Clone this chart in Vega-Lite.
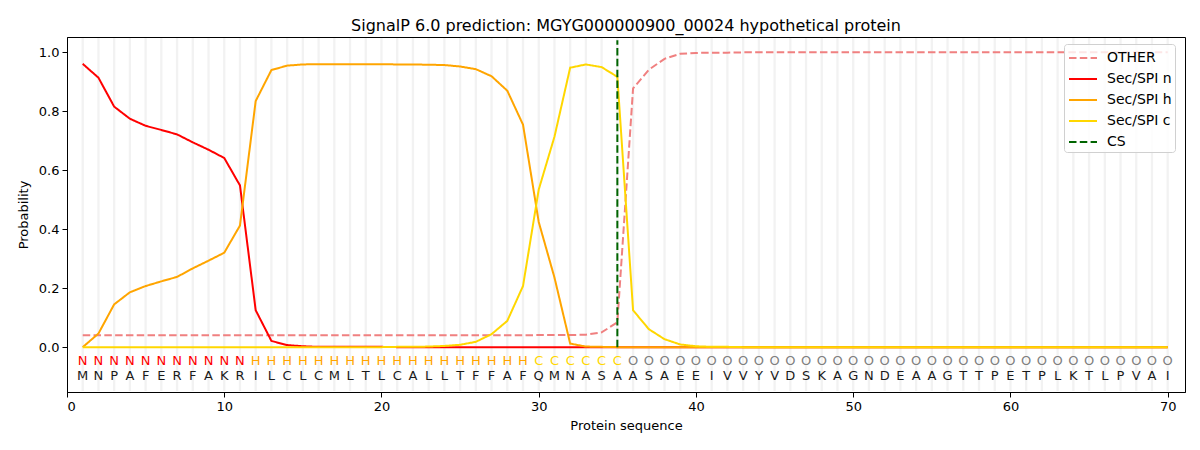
{
  "$schema": "https://vega.github.io/schema/vega-lite/v6.json",
  "width": 1118,
  "height": 355,
  "autosize": {"type": "none"},
  "padding": {"left": 67, "top": 37, "right": 15, "bottom": 58},
  "config": {
    "font": "DejaVu Sans",
    "view": {"stroke": "black", "strokeWidth": 1},
    "axis": {"grid": false, "domainColor": "black", "tickColor": "black", "labelColor": "black", "titleColor": "black", "labelFontSize": 13, "titleFontSize": 13, "titleFontWeight": "normal", "tickSize": 5, "labelFont": "DejaVu Sans", "titleFont": "DejaVu Sans"}
  },
  "title": {"text": "SignalP 6.0 prediction: MGYG000000900_00024 hypothetical protein", "fontSize": 16, "fontWeight": "normal", "font": "DejaVu Sans", "color": "black", "offset": 3},
  "datasets": {
    "seq": [
      {"pos": 1, "aa": "M", "lab": "N", "OTHER": 0.04, "Sec/SPI n": 0.960, "Sec/SPI h": 0.0, "Sec/SPI c": 0.0},
      {"pos": 2, "aa": "N", "lab": "N", "OTHER": 0.04, "Sec/SPI n": 0.913, "Sec/SPI h": 0.046, "Sec/SPI c": 0.0},
      {"pos": 3, "aa": "P", "lab": "N", "OTHER": 0.04, "Sec/SPI n": 0.815, "Sec/SPI h": 0.145, "Sec/SPI c": 0.0},
      {"pos": 4, "aa": "A", "lab": "N", "OTHER": 0.04, "Sec/SPI n": 0.774, "Sec/SPI h": 0.186, "Sec/SPI c": 0.0},
      {"pos": 5, "aa": "F", "lab": "N", "OTHER": 0.04, "Sec/SPI n": 0.750, "Sec/SPI h": 0.207, "Sec/SPI c": 0.0},
      {"pos": 6, "aa": "E", "lab": "N", "OTHER": 0.04, "Sec/SPI n": 0.736, "Sec/SPI h": 0.223, "Sec/SPI c": 0.0},
      {"pos": 7, "aa": "R", "lab": "N", "OTHER": 0.04, "Sec/SPI n": 0.721, "Sec/SPI h": 0.238, "Sec/SPI c": 0.0},
      {"pos": 8, "aa": "F", "lab": "N", "OTHER": 0.04, "Sec/SPI n": 0.694, "Sec/SPI h": 0.267, "Sec/SPI c": 0.0},
      {"pos": 9, "aa": "A", "lab": "N", "OTHER": 0.04, "Sec/SPI n": 0.669, "Sec/SPI h": 0.293, "Sec/SPI c": 0.0},
      {"pos": 10, "aa": "K", "lab": "N", "OTHER": 0.04, "Sec/SPI n": 0.641, "Sec/SPI h": 0.320, "Sec/SPI c": 0.0},
      {"pos": 11, "aa": "R", "lab": "N", "OTHER": 0.04, "Sec/SPI n": 0.548, "Sec/SPI h": 0.412, "Sec/SPI c": 0.0},
      {"pos": 12, "aa": "I", "lab": "H", "OTHER": 0.04, "Sec/SPI n": 0.125, "Sec/SPI h": 0.834, "Sec/SPI c": 0.0},
      {"pos": 13, "aa": "L", "lab": "H", "OTHER": 0.04, "Sec/SPI n": 0.021, "Sec/SPI h": 0.939, "Sec/SPI c": 0.0},
      {"pos": 14, "aa": "C", "lab": "H", "OTHER": 0.04, "Sec/SPI n": 0.007, "Sec/SPI h": 0.954, "Sec/SPI c": 0.0},
      {"pos": 15, "aa": "L", "lab": "H", "OTHER": 0.04, "Sec/SPI n": 0.003, "Sec/SPI h": 0.958, "Sec/SPI c": 0.0},
      {"pos": 16, "aa": "C", "lab": "H", "OTHER": 0.04, "Sec/SPI n": 0.001, "Sec/SPI h": 0.959, "Sec/SPI c": 0.0},
      {"pos": 17, "aa": "M", "lab": "H", "OTHER": 0.04, "Sec/SPI n": 0.001, "Sec/SPI h": 0.959, "Sec/SPI c": 0.0},
      {"pos": 18, "aa": "L", "lab": "H", "OTHER": 0.04, "Sec/SPI n": 0.001, "Sec/SPI h": 0.959, "Sec/SPI c": 0.0},
      {"pos": 19, "aa": "T", "lab": "H", "OTHER": 0.04, "Sec/SPI n": 0.001, "Sec/SPI h": 0.959, "Sec/SPI c": 0.0},
      {"pos": 20, "aa": "L", "lab": "H", "OTHER": 0.04, "Sec/SPI n": 0.001, "Sec/SPI h": 0.959, "Sec/SPI c": 0.0},
      {"pos": 21, "aa": "C", "lab": "H", "OTHER": 0.04, "Sec/SPI n": 0.0, "Sec/SPI h": 0.958, "Sec/SPI c": 0.001},
      {"pos": 22, "aa": "A", "lab": "H", "OTHER": 0.04, "Sec/SPI n": 0.0, "Sec/SPI h": 0.958, "Sec/SPI c": 0.001},
      {"pos": 23, "aa": "L", "lab": "H", "OTHER": 0.04, "Sec/SPI n": 0.0, "Sec/SPI h": 0.957, "Sec/SPI c": 0.002},
      {"pos": 24, "aa": "L", "lab": "H", "OTHER": 0.04, "Sec/SPI n": 0.0, "Sec/SPI h": 0.956, "Sec/SPI c": 0.004},
      {"pos": 25, "aa": "T", "lab": "H", "OTHER": 0.04, "Sec/SPI n": 0.0, "Sec/SPI h": 0.951, "Sec/SPI c": 0.008},
      {"pos": 26, "aa": "F", "lab": "H", "OTHER": 0.04, "Sec/SPI n": 0.0, "Sec/SPI h": 0.942, "Sec/SPI c": 0.018},
      {"pos": 27, "aa": "F", "lab": "H", "OTHER": 0.04, "Sec/SPI n": 0.0, "Sec/SPI h": 0.918, "Sec/SPI c": 0.044},
      {"pos": 28, "aa": "A", "lab": "H", "OTHER": 0.04, "Sec/SPI n": 0.0, "Sec/SPI h": 0.869, "Sec/SPI c": 0.089},
      {"pos": 29, "aa": "F", "lab": "H", "OTHER": 0.04, "Sec/SPI n": 0.0, "Sec/SPI h": 0.754, "Sec/SPI c": 0.207},
      {"pos": 30, "aa": "Q", "lab": "C", "OTHER": 0.041, "Sec/SPI n": 0.0, "Sec/SPI h": 0.424, "Sec/SPI c": 0.534},
      {"pos": 31, "aa": "M", "lab": "C", "OTHER": 0.041, "Sec/SPI n": 0.0, "Sec/SPI h": 0.236, "Sec/SPI c": 0.713},
      {"pos": 32, "aa": "N", "lab": "C", "OTHER": 0.041, "Sec/SPI n": 0.0, "Sec/SPI h": 0.012, "Sec/SPI c": 0.947},
      {"pos": 33, "aa": "A", "lab": "C", "OTHER": 0.042, "Sec/SPI n": 0.0, "Sec/SPI h": 0.002, "Sec/SPI c": 0.958},
      {"pos": 34, "aa": "S", "lab": "C", "OTHER": 0.05, "Sec/SPI n": 0.0, "Sec/SPI h": 0.001, "Sec/SPI c": 0.949},
      {"pos": 35, "aa": "A", "lab": "C", "OTHER": 0.084, "Sec/SPI n": 0.0, "Sec/SPI h": 0.0, "Sec/SPI c": 0.916},
      {"pos": 36, "aa": "A", "lab": "O", "OTHER": 0.877, "Sec/SPI n": 0.0, "Sec/SPI h": 0.0, "Sec/SPI c": 0.125},
      {"pos": 37, "aa": "S", "lab": "O", "OTHER": 0.940, "Sec/SPI n": 0.0, "Sec/SPI h": 0.0, "Sec/SPI c": 0.061},
      {"pos": 38, "aa": "A", "lab": "O", "OTHER": 0.977, "Sec/SPI n": 0.0, "Sec/SPI h": 0.0, "Sec/SPI c": 0.027},
      {"pos": 39, "aa": "E", "lab": "O", "OTHER": 0.994, "Sec/SPI n": 0.0, "Sec/SPI h": 0.0, "Sec/SPI c": 0.009},
      {"pos": 40, "aa": "E", "lab": "O", "OTHER": 0.997, "Sec/SPI n": 0.0, "Sec/SPI h": 0.0, "Sec/SPI c": 0.003},
      {"pos": 41, "aa": "I", "lab": "O", "OTHER": 0.998, "Sec/SPI n": 0.0, "Sec/SPI h": 0.0, "Sec/SPI c": 0.001},
      {"pos": 42, "aa": "V", "lab": "O", "OTHER": 0.998, "Sec/SPI n": 0.0, "Sec/SPI h": 0.0, "Sec/SPI c": 0.001},
      {"pos": 43, "aa": "V", "lab": "O", "OTHER": 0.999, "Sec/SPI n": 0.0, "Sec/SPI h": 0.0, "Sec/SPI c": 0.0},
      {"pos": 44, "aa": "Y", "lab": "O", "OTHER": 0.999, "Sec/SPI n": 0.0, "Sec/SPI h": 0.0, "Sec/SPI c": 0.0},
      {"pos": 45, "aa": "V", "lab": "O", "OTHER": 0.999, "Sec/SPI n": 0.0, "Sec/SPI h": 0.0, "Sec/SPI c": 0.0},
      {"pos": 46, "aa": "D", "lab": "O", "OTHER": 0.999, "Sec/SPI n": 0.0, "Sec/SPI h": 0.0, "Sec/SPI c": 0.0},
      {"pos": 47, "aa": "S", "lab": "O", "OTHER": 0.999, "Sec/SPI n": 0.0, "Sec/SPI h": 0.0, "Sec/SPI c": 0.0},
      {"pos": 48, "aa": "K", "lab": "O", "OTHER": 0.999, "Sec/SPI n": 0.0, "Sec/SPI h": 0.0, "Sec/SPI c": 0.0},
      {"pos": 49, "aa": "A", "lab": "O", "OTHER": 0.999, "Sec/SPI n": 0.0, "Sec/SPI h": 0.0, "Sec/SPI c": 0.0},
      {"pos": 50, "aa": "G", "lab": "O", "OTHER": 0.999, "Sec/SPI n": 0.0, "Sec/SPI h": 0.0, "Sec/SPI c": 0.0},
      {"pos": 51, "aa": "N", "lab": "O", "OTHER": 0.999, "Sec/SPI n": 0.0, "Sec/SPI h": 0.0, "Sec/SPI c": 0.0},
      {"pos": 52, "aa": "D", "lab": "O", "OTHER": 0.999, "Sec/SPI n": 0.0, "Sec/SPI h": 0.0, "Sec/SPI c": 0.0},
      {"pos": 53, "aa": "E", "lab": "O", "OTHER": 0.999, "Sec/SPI n": 0.0, "Sec/SPI h": 0.0, "Sec/SPI c": 0.0},
      {"pos": 54, "aa": "A", "lab": "O", "OTHER": 0.999, "Sec/SPI n": 0.0, "Sec/SPI h": 0.0, "Sec/SPI c": 0.0},
      {"pos": 55, "aa": "A", "lab": "O", "OTHER": 0.999, "Sec/SPI n": 0.0, "Sec/SPI h": 0.0, "Sec/SPI c": 0.0},
      {"pos": 56, "aa": "G", "lab": "O", "OTHER": 0.999, "Sec/SPI n": 0.0, "Sec/SPI h": 0.0, "Sec/SPI c": 0.0},
      {"pos": 57, "aa": "T", "lab": "O", "OTHER": 0.999, "Sec/SPI n": 0.0, "Sec/SPI h": 0.0, "Sec/SPI c": 0.0},
      {"pos": 58, "aa": "T", "lab": "O", "OTHER": 0.999, "Sec/SPI n": 0.0, "Sec/SPI h": 0.0, "Sec/SPI c": 0.0},
      {"pos": 59, "aa": "P", "lab": "O", "OTHER": 0.999, "Sec/SPI n": 0.0, "Sec/SPI h": 0.0, "Sec/SPI c": 0.0},
      {"pos": 60, "aa": "E", "lab": "O", "OTHER": 0.999, "Sec/SPI n": 0.0, "Sec/SPI h": 0.0, "Sec/SPI c": 0.0},
      {"pos": 61, "aa": "T", "lab": "O", "OTHER": 0.999, "Sec/SPI n": 0.0, "Sec/SPI h": 0.0, "Sec/SPI c": 0.0},
      {"pos": 62, "aa": "P", "lab": "O", "OTHER": 0.999, "Sec/SPI n": 0.0, "Sec/SPI h": 0.0, "Sec/SPI c": 0.0},
      {"pos": 63, "aa": "L", "lab": "O", "OTHER": 0.999, "Sec/SPI n": 0.0, "Sec/SPI h": 0.0, "Sec/SPI c": 0.0},
      {"pos": 64, "aa": "K", "lab": "O", "OTHER": 0.999, "Sec/SPI n": 0.0, "Sec/SPI h": 0.0, "Sec/SPI c": 0.0},
      {"pos": 65, "aa": "T", "lab": "O", "OTHER": 0.999, "Sec/SPI n": 0.0, "Sec/SPI h": 0.0, "Sec/SPI c": 0.0},
      {"pos": 66, "aa": "L", "lab": "O", "OTHER": 0.999, "Sec/SPI n": 0.0, "Sec/SPI h": 0.0, "Sec/SPI c": 0.0},
      {"pos": 67, "aa": "P", "lab": "O", "OTHER": 0.999, "Sec/SPI n": 0.0, "Sec/SPI h": 0.0, "Sec/SPI c": 0.0},
      {"pos": 68, "aa": "V", "lab": "O", "OTHER": 0.999, "Sec/SPI n": 0.0, "Sec/SPI h": 0.0, "Sec/SPI c": 0.0},
      {"pos": 69, "aa": "A", "lab": "O", "OTHER": 0.999, "Sec/SPI n": 0.0, "Sec/SPI h": 0.0, "Sec/SPI c": 0.0},
      {"pos": 70, "aa": "I", "lab": "O", "OTHER": 0.999, "Sec/SPI n": 0.0, "Sec/SPI h": 0.0, "Sec/SPI c": 0.0}
    ],
    "cs": [{"pos": 35, "series": "CS", "y0": 0, "y1": 1.04}]
  },
  "layer": [
    {
      "data": {"name": "seq"},
      "mark": {"type": "rule", "color": "#f2f2f2", "strokeWidth": 2.3},
      "encoding": {
        "x": {"field": "pos", "type": "quantitative", "scale": {"domain": [0, 71.1], "nice": false, "zero": false},
              "axis": {"values": [0, 10, 20, 30, 40, 50, 60, 70], "title": "Protein sequence", "titlePadding": 6, "labelPadding": 3}},
        "y": {"datum": -0.149, "type": "quantitative"},
        "y2": {"datum": 1.048}
      }
    },
    {
      "data": {"name": "seq"},
      "transform": [{"fold": ["OTHER", "Sec/SPI n", "Sec/SPI h", "Sec/SPI c"], "as": ["series", "prob"]}],
      "mark": {"type": "line", "strokeWidth": 2},
      "encoding": {
        "x": {"field": "pos", "type": "quantitative"},
        "y": {"field": "prob", "type": "quantitative", "scale": {"domain": [-0.152, 1.051], "nice": false, "zero": false},
              "axis": {"values": [0, 0.2, 0.4, 0.6, 0.8, 1.0], "format": ".1f", "title": "Probability", "titlePadding": 8, "labelPadding": 3}},
        "color": {"field": "series", "type": "nominal",
                  "scale": {"domain": ["OTHER", "Sec/SPI n", "Sec/SPI h", "Sec/SPI c", "CS"], "range": ["#f08080", "#ff0000", "#ffa500", "#ffd700", "#006400"]},
                  "legend": {"title": null, "orient": "none", "legendX": 997, "legendY": 7, "symbolType": "M-0.9,0H1.9", "symbolStrokeWidth": 2, "symbolSize": 400, "symbolFillColor": "transparent", "labelFontSize": 14, "labelFont": "DejaVu Sans", "labelColor": "black", "strokeColor": "#d0d0d0", "fillColor": "rgba(255,255,255,0.8)", "cornerRadius": 3, "padding": 3, "rowPadding": 3, "labelOffset": 18, "offset": 0}},
        "strokeDash": {"field": "series", "type": "nominal",
                       "scale": {"domain": ["OTHER", "Sec/SPI n", "Sec/SPI h", "Sec/SPI c", "CS"], "range": [[7.5, 3.3], [1, 0], [1, 0], [1, 0], [7.5, 3.3]]},
                       "legend": {"title": null, "orient": "none", "legendX": 997, "legendY": 7, "symbolType": "M-0.9,0H1.9", "symbolStrokeWidth": 2, "symbolSize": 400, "symbolFillColor": "transparent", "labelFontSize": 14, "labelFont": "DejaVu Sans", "labelColor": "black", "strokeColor": "#d0d0d0", "fillColor": "rgba(255,255,255,0.8)", "cornerRadius": 3, "padding": 3, "rowPadding": 3, "labelOffset": 18, "offset": 0}}
      }
    },
    {
      "data": {"name": "cs"},
      "mark": {"type": "rule", "strokeWidth": 2},
      "encoding": {
        "x": {"field": "pos", "type": "quantitative"},
        "y": {"field": "y0", "type": "quantitative"},
        "y2": {"field": "y1"},
        "color": {"field": "series", "type": "nominal"},
        "strokeDash": {"field": "series", "type": "nominal"}
      }
    },
    {
      "data": {"name": "seq"},
      "mark": {"type": "text", "fontSize": 13, "font": "DejaVu Sans", "baseline": "middle", "align": "center"},
      "encoding": {
        "x": {"field": "pos", "type": "quantitative"},
        "y": {"datum": -0.046},
        "text": {"field": "lab"},
        "fill": {"field": "lab", "type": "nominal", "scale": {"domain": ["N", "H", "C", "O"], "range": ["#ff0000", "#ffa500", "#ffd700", "#808080"]}, "legend": null}
      }
    },
    {
      "data": {"name": "seq"},
      "mark": {"type": "text", "fontSize": 13, "font": "DejaVu Sans", "baseline": "middle", "align": "center", "color": "#1a1a1a"},
      "encoding": {
        "x": {"field": "pos", "type": "quantitative"},
        "y": {"datum": -0.097},
        "text": {"field": "aa"}
      }
    }
  ]
}
